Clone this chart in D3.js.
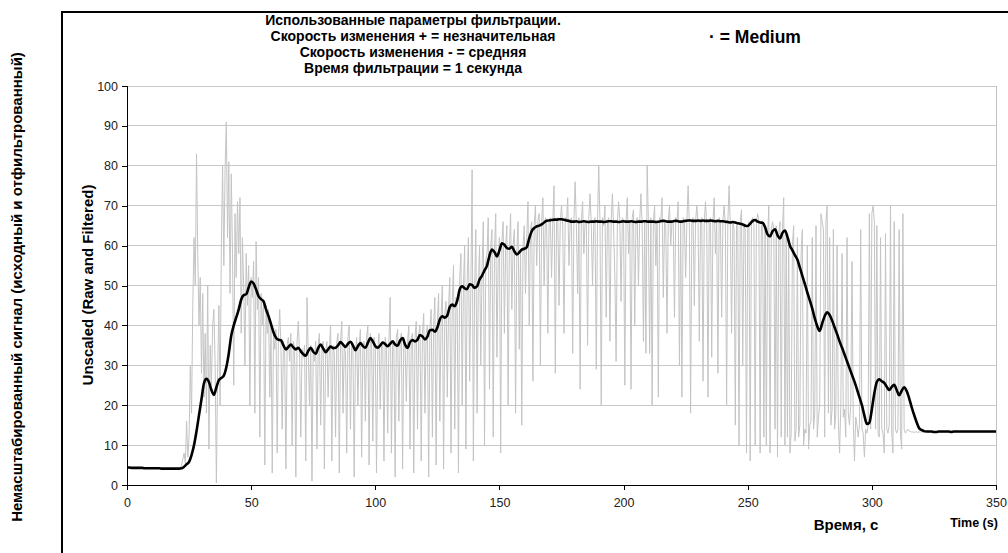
<!DOCTYPE html>
<html><head><meta charset="utf-8">
<script src="https://cdn.jsdelivr.net/npm/d3@7/dist/d3.min.js"></script>
<style>body{margin:0;background:#fff}svg{display:block;font-family:"Liberation Sans",Arial,sans-serif}</style>
</head><body><svg id="c" width="1008" height="553"></svg>
<script>
const titleLines = ["Использованные параметры фильтрации.","Скорость изменения + = незначительная","Скорость изменения - = средняя","Время фильтрации = 1 секунда"];
const legendText = "· = Medium";
const yLabelInner = "Unscaled (Raw and Filtered)";
const yLabelOuter = "Немасштабированный сигнал (исходный и отфильтрованный)";
const xLabelRu = "Время, с";
const xLabelEn = "Time (s)";
const xTicks = [0,50,100,150,200,250,300,350];
const yTicks = [0,10,20,30,40,50,60,70,80,90,100];
const rawStep = 0.5;
const rawValues = [
4.4,4.4,4.4,4.3,4.4,4.3,4.3,4.3,4.3,4.3,
4.3,4.3,4.3,4.2,4.3,4.2,4.2,4.2,4.2,4.2,
4.2,4.2,4.2,4.2,4.2,4.2,4.2,4.1,4.2,4.1,
4.1,4.1,4.1,4.1,4.1,4.1,4.1,4.1,4.1,4.1,
4.1,4.1,4.2,4.4,5,6.5,8,5.5,16,7,
12,30,18,45,62,50,83,58,40,52,
28,48,22,38,18,50,9,35,25,40,
44,30,0.5,28,45,20,60,80,55,79,
91,62,81,48,78,58,25,68,52,71,
58,72,38,62,50,30,58,45,55,20,
52,47,56,18,61,44,52,12,48,40,
46,5,45,38,44,22,40,3,38,34,
39,8,37,44,35,14,36,33,4,35,
37,31,38,10,36,34,2,36,41,33,
12,34,32,35,6,47,33,20,35,1,
34,31,36,9,35,38,15,34,36,4,
33,36,22,34,40,6,35,33,12,36,
38,3,36,41,18,35,33,8,37,40,
14,36,34,2,33,37,20,35,39,7,
34,36,16,37,40,5,38,36,11,37,
35,3,34,38,19,35,36,6,37,34,
13,36,47,8,36,35,2,37,39,16,
36,38,4,37,35,21,36,40,9,37,
38,3,37,41,14,38,40,6,38,43,
18,38,40,2,39,44,12,40,47,5,
41,48,16,42,50,4,43,46,22,44,
52,8,46,55,14,47,44,3,52,58,
20,50,60,9,51,62,26,50,79,6,
49,64,18,50,60,30,54,66,10,56,
58,67,24,60,64,12,59,68,32,57,
62,8,61,66,38,60,65,20,59,68,
44,60,64,18,58,66,34,59,15,60,
65,48,62,71,40,64,66,26,65,70,
55,66,68,30,66,72,50,67,66,38,
66,67,52,66,75,28,66,67,45,66,
70,65,38,67,66,72,55,66,67,33,
66,76,65,48,67,24,66,71,58,66,
66,35,67,73,65,50,66,67,29,66,
80,66,20,67,65,70,42,66,67,36,
66,73,64,52,31,66,71,66,46,67,
66,25,66,72,58,66,24,67,69,40,
66,67,50,66,73,65,36,66,33,80,
66,33,67,20,66,70,55,66,22,67,
66,72,47,66,65,38,66,70,60,66,
66,42,67,66,71,30,66,22,67,66,
52,66,75,65,18,66,67,45,66,70,
66,36,66,67,26,66,71,65,22,66,
67,32,66,72,58,66,28,67,66,42,
66,70,65,20,66,75,65,38,66,64,
15,66,65,10,66,69,30,65,64,8,
64,66,6,66,67,65,10,66,68,66,
8,66,65,12,64,10,62,70,8,64,
66,64,14,65,7,63,66,12,64,72,
10,63,12,62,8,13,60,65,11,14,
62,12,15,58,64,10,14,13,60,9,
15,16,62,14,18,65,12,17,20,68,
66,64,12,66,70,18,62,15,19,64,
14,18,60,16,8,20,58,17,19,12,
62,18,15,20,56,16,6,17,15,12,
15,64,14,13,7,14,13,15,68,14,
68,70,66,14,65,13,12,62,14,13,
8,63,14,13,15,70,13,8,66,14,
13,14,64,13,9,68,14,13,13.5,14,
13.5,13.4,13.3,13.3,13.2,13.3,13.3,13.2,13.3,13.3,
13.3,13.3,13.2,13.3,13.3,13.3,13.2,13.3,13.3,13.3,
13.3,13.2,13.3,13.3,13.3,13.3,13.2,13.3,13.3,13.3,
13.3,13.3,13.2,13.3,13.3,13.3,13.3,13.2,13.3,13.3,
13.3,13.3,13.3,13.2,13.3,13.3,13.3,13.3,13.3,13.2,
13.3,13.3,13.3,13.3,13.3,13.3,13.2,13.3,13.3,13.3,
13.3,13.3,13.3,13.3,13.3,13.3,13.3,13.3,13.3,13.3,
13.3
];
const filtStep = 1;
const filteredValues = [
4.4,4.4,4.3,4.3,4.3,4.3,4.3,4.2,4.2,4.2,
4.2,4.2,4.2,4.2,4.1,4.1,4.1,4.1,4.1,4.1,
4.1,4.1,4.2,4.6,5.2,5.8,7.5,10,13.5,17.5,
21.5,25.5,26.6,25.8,23.8,22.6,24.5,26.3,26.8,27.4,
29.5,33,37.5,40,42,44,46.5,47.6,47.8,49.5,
51,50.5,49,47.3,46.6,46,44,42.3,40.3,38.3,
36.9,36.4,36.3,35,34,34.6,35.2,34.5,34,34.4,
33.5,32.8,32.4,33.6,34.4,33.4,32.9,34.3,35.2,34.2,
33.3,34,34.7,34.3,34.4,35,35.8,35.2,34.6,35.4,
35.9,35,33.8,34.8,35.6,34.8,34.4,35.6,36.8,36,
34.8,34.4,35,35.7,35.3,34.8,35.4,36,35.2,34.9,
36.2,36.8,35.2,34.4,35.8,36.3,36,36.4,37.6,37.2,
36.5,37.2,38.8,38.9,38.4,39.5,41.5,42.3,41.9,42.5,
44.6,45.2,44.8,46.2,49,49.8,49.3,49.1,50.3,50.1,
49.4,49.8,51.5,52.5,53.8,55,57.5,59,58.4,57.3,
58.8,60.6,60.2,59.4,59.2,59.7,58.6,57.8,58.3,59,
59.2,59.6,61.8,63.6,64.4,64.8,65,65.3,65.8,66.2,
66.3,66.4,66.5,66.5,66.6,66.6,66.5,66.3,66.2,66,
66,66.1,65.9,66,66.1,66,65.9,66,66,66.1,
66,66,65.9,66,66.1,66.1,66,66,65.9,66,
66.1,66,66,66.1,66,65.9,66,66,66.1,66.1,
66,66,66,65.9,66,66.1,66.2,66.1,66,66,
66.1,66.2,66.1,66,66.1,66.2,66.3,66.3,66.2,66.2,
66.3,66.2,66.3,66.2,66.2,66.3,66.2,66.1,66.2,66.1,
66.1,66,65.9,65.8,65.9,65.8,65.6,65.5,65.3,65,
64.9,65.5,66.2,66.4,66,65.8,65.7,64.6,62.8,62.3,
63.6,64.1,62.6,61.8,63.2,63.8,62.2,60,58.8,57.6,
56.5,54.5,52.4,50.4,48.3,46.3,44.2,41.8,39.8,38.6,
40.5,42.3,43.3,42.6,41.2,39.5,37.8,36,34.4,32.7,
31,29.3,27.6,25.9,24,22,20,17.4,15.3,15.6,
19,23,25.8,26.5,26,25.6,24.6,23.8,24.6,25.1,
23.8,22.5,23.6,24.5,23.6,21.8,19.6,17.6,15.8,14.3,
13.8,13.5,13.4,13.4,13.4,13.3,13.3,13.4,13.4,13.4,
13.4,13.4,13.3,13.4,13.4,13.4,13.4,13.4,13.4,13.4,
13.4,13.4,13.4,13.4,13.4,13.4,13.4,13.4,13.4,13.4,
13.4
];

const svg = d3.select("#c");
const x = d3.scaleLinear().domain([0,350]).range([127,996]);
const y = d3.scaleLinear().domain([0,100]).range([485,86]);

// outer frame
svg.append("rect").attr("x",62).attr("y",12).attr("width",980).attr("height",600)
  .attr("fill","none").attr("stroke","#000").attr("stroke-width",2);

// grid
svg.append("g").selectAll("line").data(yTicks.filter(d=>d>0)).join("line")
  .attr("x1",x(0)).attr("x2",x(350)).attr("y1",d=>y(d)).attr("y2",d=>y(d))
  .attr("stroke","#c8c8c8").attr("stroke-width",1).attr("shape-rendering","crispEdges");
svg.append("line").attr("x1",x(350)).attr("x2",x(350)).attr("y1",y(100)).attr("y2",y(0))
  .attr("stroke","#c0c0c0").attr("shape-rendering","crispEdges");

// raw and filtered
const rawData = rawValues.map((v,i)=>[i*rawStep,v]);
const filtData = filteredValues.map((v,i)=>[i*filtStep,v]);
const line = d3.line().x(d=>x(d[0])).y(d=>y(d[1]));
svg.append("path").datum(rawData).attr("d",line).attr("fill","none")
  .attr("stroke","#c4c4c4").attr("stroke-width",1);
svg.append("path").datum(filtData).attr("d",line.curve(d3.curveMonotoneX)).attr("fill","none")
  .attr("stroke","#000").attr("stroke-width",2.6).attr("stroke-linejoin","round");

// axes
const yAxis = svg.append("g").attr("transform",`translate(${x(0)},0)`)
  .call(d3.axisLeft(y).tickValues(yTicks).tickSize(5).tickPadding(4));
const xAxis = svg.append("g").attr("transform",`translate(0,${y(0)})`)
  .call(d3.axisBottom(x).tickValues(xTicks).tickSize(5).tickPadding(8));
[yAxis,xAxis].forEach(g=>{
  g.selectAll("path,line").attr("stroke","#000").attr("shape-rendering","crispEdges");
  g.selectAll("text").attr("font-family","Liberation Sans, Arial, sans-serif").attr("font-size",12.5).attr("fill","#222");
});

// titles
svg.append("g").selectAll("text").data(titleLines).join("text")
  .attr("x",413).attr("y",(d,i)=>25+i*16).attr("text-anchor","middle")
  .attr("font-weight","bold").attr("font-size",14).text(d=>d);
svg.append("text").attr("x",755).attr("y",43).attr("text-anchor","middle")
  .attr("font-weight","bold").attr("font-size",17.5).text(legendText);

svg.append("text").attr("transform","translate(93,285) rotate(-90)").attr("text-anchor","middle")
  .attr("font-weight","bold").attr("font-size",15).text(yLabelInner);
svg.append("text").attr("transform","translate(22,287) rotate(-90)").attr("text-anchor","middle")
  .attr("font-weight","bold").attr("font-size",15).text(yLabelOuter);
svg.append("text").attr("x",846).attr("y",530).attr("text-anchor","middle")
  .attr("font-weight","bold").attr("font-size",15).text(xLabelRu);
svg.append("text").attr("x",974).attr("y",527).attr("text-anchor","middle")
  .attr("font-weight","bold").attr("font-size",12.5).text(xLabelEn);
</script></body></html>
